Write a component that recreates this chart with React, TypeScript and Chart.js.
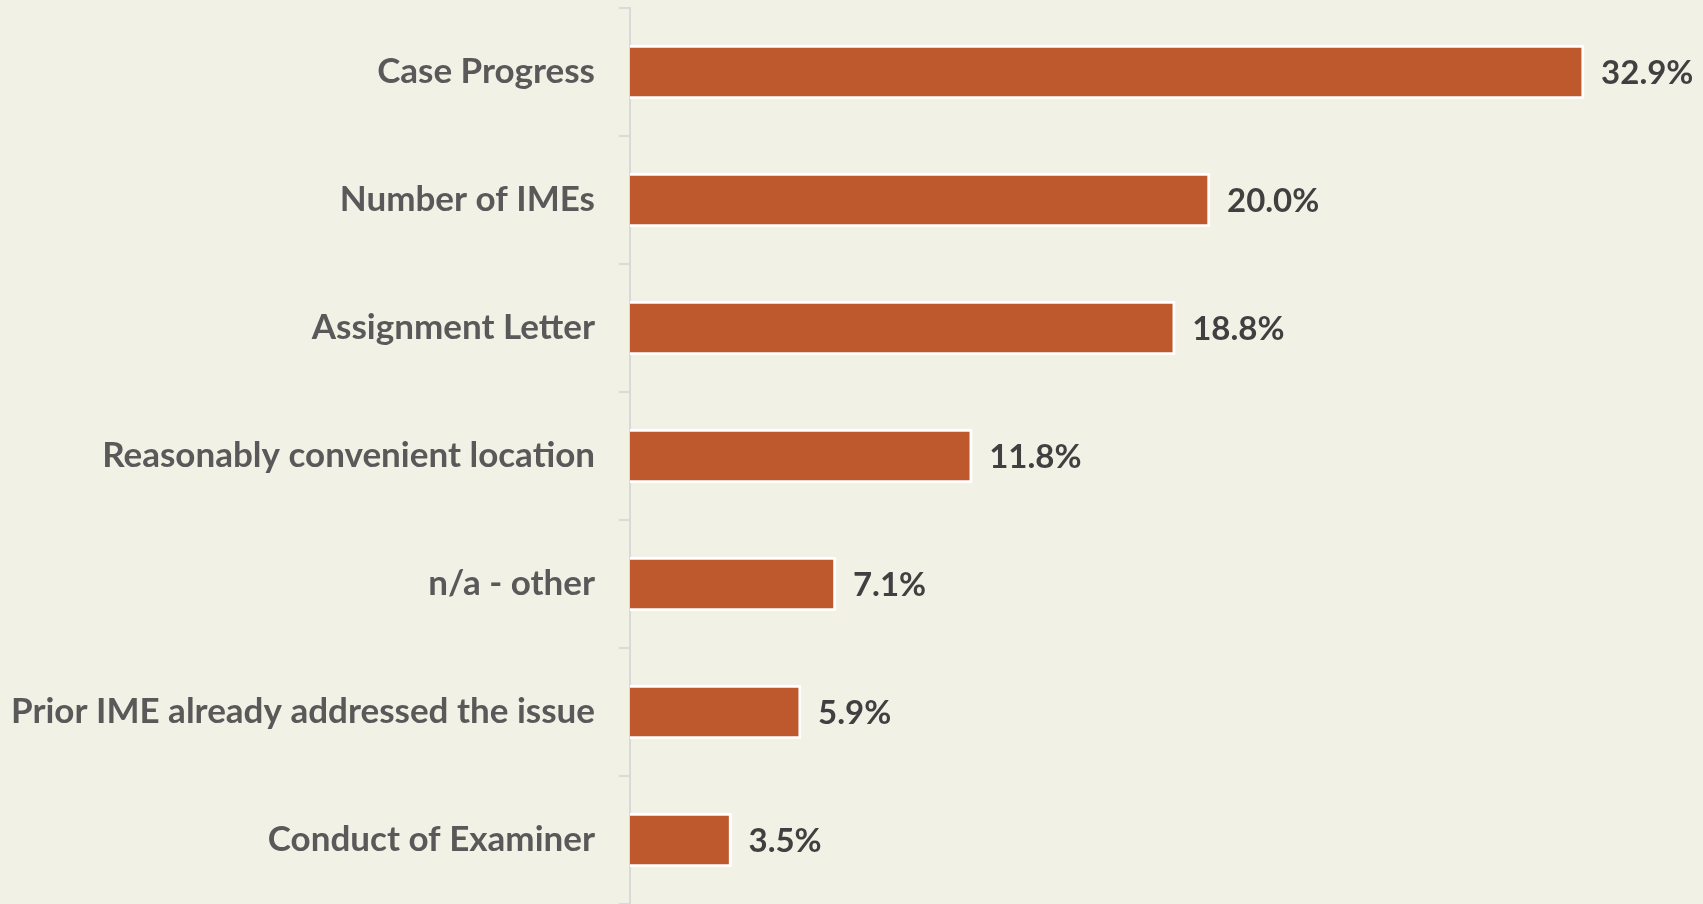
import React, { useEffect, useRef } from "react";
import { Chart, registerables } from "chart.js";

Chart.register(...registerables);

const categories = [
  "Case Progress",
  "Number of IMEs",
  "Assignment Letter",
  "Reasonably convenient location",
  "n/a - other",
  "Prior IME already addressed the issue",
  "Conduct of Examiner",
];
const values = [32.9, 20.0, 18.8, 11.8, 7.1, 5.9, 3.5];

const BG = "#F2F1E6";
const BAR = "#BE582D";
const FONT = "Lato";

const valueLabels = {
  id: "valueLabels",
  afterDatasetsDraw(chart: any) {
    const { ctx } = chart;
    const meta = chart.getDatasetMeta(0);
    const xScale = chart.scales.x;
    ctx.save();
    ctx.font = `bold 33px ${FONT}`;
    ctx.fillStyle = "#404040";
    ctx.textAlign = "left";
    ctx.textBaseline = "middle";
    meta.data.forEach((bar: any, i: number) => {
      const v = values[i];
      const x = xScale.getPixelForValue(v) + 17;
      ctx.fillText(v.toFixed(1) + "%", x, bar.y + 1);
    });
    ctx.restore();
  },
};

const bgPlugin = {
  id: "bg",
  beforeDraw(chart: any) {
    const { ctx, width, height } = chart;
    ctx.save();
    ctx.fillStyle = BG;
    ctx.fillRect(0, 0, width, height);
    ctx.restore();
  },
};

export default function App() {
  const ref = useRef<HTMLCanvasElement | null>(null);
  useEffect(() => {
    if (!ref.current) return;
    const chart = new Chart(ref.current, {
      type: "bar",
      data: {
        labels: categories,
        datasets: [
          {
            data: values,
            backgroundColor: BAR,
            borderColor: "#FFFFFF",
            borderWidth: 3,
            borderSkipped: "start",
            barThickness: 54,
          },
        ],
      },
      plugins: [bgPlugin, valueLabels],
      options: {
        indexAxis: "y",
        animation: false,
        responsive: false,
        maintainAspectRatio: false,
        layout: { padding: { top: 8, right: 58, bottom: 0, left: 0 } },
        plugins: {
          legend: { display: false },
          tooltip: { enabled: false },
        },
        scales: {
          x: {
            display: false,
            min: 0,
            max: 35,
          },
          y: {
            afterFit(scale: any) {
              scale.width = 630;
              scale.paddingTop = 0;
              scale.paddingBottom = 0;
            },
            grid: {
              offset: true,
              drawOnChartArea: false,
              drawTicks: true,
              tickLength: 11,
              color: "#D9D9D9",
              lineWidth: 2,
            },
            border: { display: true, color: "#D9D9D9", width: 2 },
            ticks: {
              padding: 24,
              color: "#595959",
              font: { family: FONT, size: 35, weight: "bold" },
            },
          },
        },
      },
    });
    return () => chart.destroy();
  }, []);
  return (
    <div style={{ position: "absolute", left: 0, top: 0, width: 1703, height: 904, background: BG }}>
      <canvas ref={ref} width={1703} height={904} style={{ display: "block" }} />
    </div>
  );
}
